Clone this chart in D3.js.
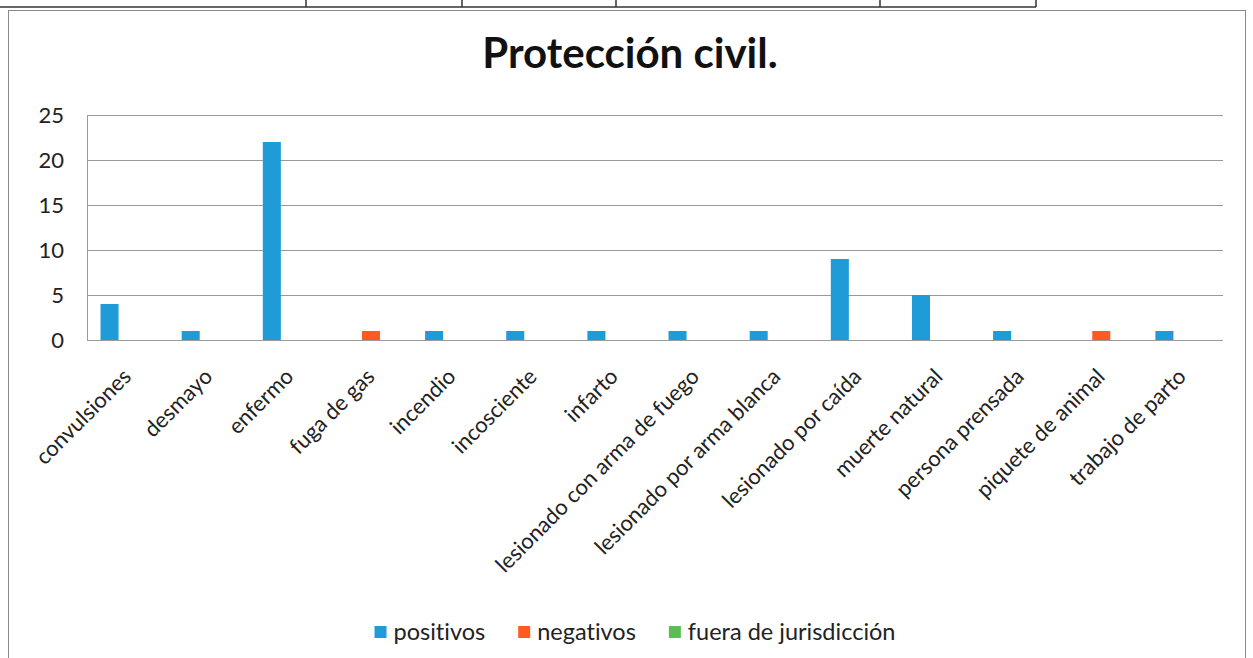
<!DOCTYPE html>
<html>
<head>
<meta charset="utf-8">
<script src="https://cdn.jsdelivr.net/npm/d3@7"></script>
<style>
  body { margin: 0; background: #fff; }
  text { font-family: Lato, "Open Sans", sans-serif; fill: #222; font-variant-ligatures: none; }
</style>
</head>
<body>
<script>
// Protección civil - counts per incident type

var categories = ["convulsiones", "desmayo", "enfermo", "fuga de gas", "incendio",
	"incosciente", "infarto", "lesionado con arma de fuego", "lesionado por arma blanca",
	"lesionado por caída", "muerte natural", "persona prensada", "piquete de animal",
	"trabajo de parto"];
var seriesNames = ["positivos", "negativos", "fuera de jurisdicción"];
var positivos = [4, 1, 22, 0, 1, 1, 1, 1, 1, 9, 5, 1, 0, 1];
var negativos = [0, 0, 0, 1, 0, 0, 0, 0, 0, 0, 0, 0, 1, 0];
var fueraJurisdiccion = [0, 0, 0, 0, 0, 0, 0, 0, 0, 0, 0, 0, 0, 0];
var yTicks = [0, 5, 10, 15, 20, 25];
var colors = ["#1f9bd7", "#ff5a1f", "#5cbd55"];

var width = 1253,
	height = 658;

var svg = d3.select('body').append('svg')
	.attr('width', width)
	.attr('height', height);

// bit of the table above the chart (scan)
var table = svg.append('g').attr('stroke', '#333').attr('stroke-width', 1.5);
table.append('line').attr('x1', 0).attr('x2', 1036).attr('y1', 7).attr('y2', 7);
[306, 462, 616, 880, 1036].forEach(function(x) {
	table.append('line').attr('x1', x).attr('x2', x).attr('y1', 0).attr('y2', 7);
});

// chart frame
svg.append('rect')
	.attr('x', 8.5).attr('y', 10.5)
	.attr('width', 1237).attr('height', 660)
	.attr('fill', 'none').attr('stroke', '#8a8a8a');

svg.append('text')
	.attr('x', 630).attr('y', 68)
	.attr('text-anchor', 'middle')
	.style('font-size', '42px').style('font-weight', 'bold')
	.style('fill', '#111')
	.text('Protección civil.');

var x0 = d3.scaleBand().domain(categories).range([87, 1223]);
var x1 = d3.scaleBand().domain(seriesNames).range([0, x0.bandwidth()])
	.paddingOuter(0.75);
var y = d3.scaleLinear().domain([0, 25]).range([340, 115]);

// gridlines
svg.append('g').selectAll('line')
	.data(yTicks)
	.enter().append('line')
	.attr('x1', 87).attr('x2', 1223)
	.attr('y1', function(d) { return Math.round(y(d)) + 0.5; })
	.attr('y2', function(d) { return Math.round(y(d)) + 0.5; })
	.attr('stroke', '#9a9a9a');

svg.append('line')
	.attr('x1', 87.5).attr('x2', 87.5)
	.attr('y1', y(25)).attr('y2', y(0))
	.attr('stroke', '#9a9a9a');

// y labels
svg.append('g').selectAll('text')
	.data(yTicks)
	.enter().append('text')
	.attr('x', 64)
	.attr('y', function(d) { return y(d); })
	.attr('dy', '0.35em')
	.attr('text-anchor', 'end')
	.style('font-size', '22px')
	.text(function(d) { return d; });

// bars
var allSeries = [positivos, negativos, fueraJurisdiccion];
var groups = svg.append('g').selectAll('g')
	.data(categories)
	.enter().append('g')
	.attr('transform', function(d) { return 'translate(' + x0(d) + ',0)'; });

groups.selectAll('rect')
	.data(function(d, i) {
		return seriesNames.map(function(s, j) { return {name: s, value: allSeries[j][i], k: j}; });
	})
	.enter().append('rect')
	.attr('x', function(d) { return x1(d.name); })
	.attr('y', function(d) { return y(d.value); })
	.attr('width', x1.bandwidth())
	.attr('height', function(d) { return y(0) - y(d.value); })
	.attr('fill', function(d) { return colors[d.k]; });

// category labels, rotated
svg.append('g').selectAll('text')
	.data(categories)
	.enter().append('text')
	.attr('text-anchor', 'end')
	.attr('transform', function(d) {
		return 'translate(' + (x0(d) + x0.bandwidth() / 2 + 5) + ',378) rotate(-45)';
	})
	.style('font-size', '22px')
	.text(function(d) { return d; });

// legend
var legend = svg.append('g');
var items = legend.selectAll('g')
	.data(seriesNames)
	.enter().append('g');
items.append('rect')
	.attr('width', 12).attr('height', 12)
	.attr('y', -6)
	.attr('fill', function(d, i) { return colors[i]; });
items.append('text')
	.attr('x', 19).attr('dy', '0.35em')
	.style('font-size', '23.5px')
	.text(function(d) { return d; });

var pos = 0;
items.each(function() {
	d3.select(this).attr('transform', 'translate(' + pos + ',0)');
	pos += 19 + d3.select(this).select('text').node().getComputedTextLength() + 33;
});
pos -= 33;
legend.attr('transform', 'translate(' + (635 - pos / 2) + ',632)');
</script>
</body>
</html>
